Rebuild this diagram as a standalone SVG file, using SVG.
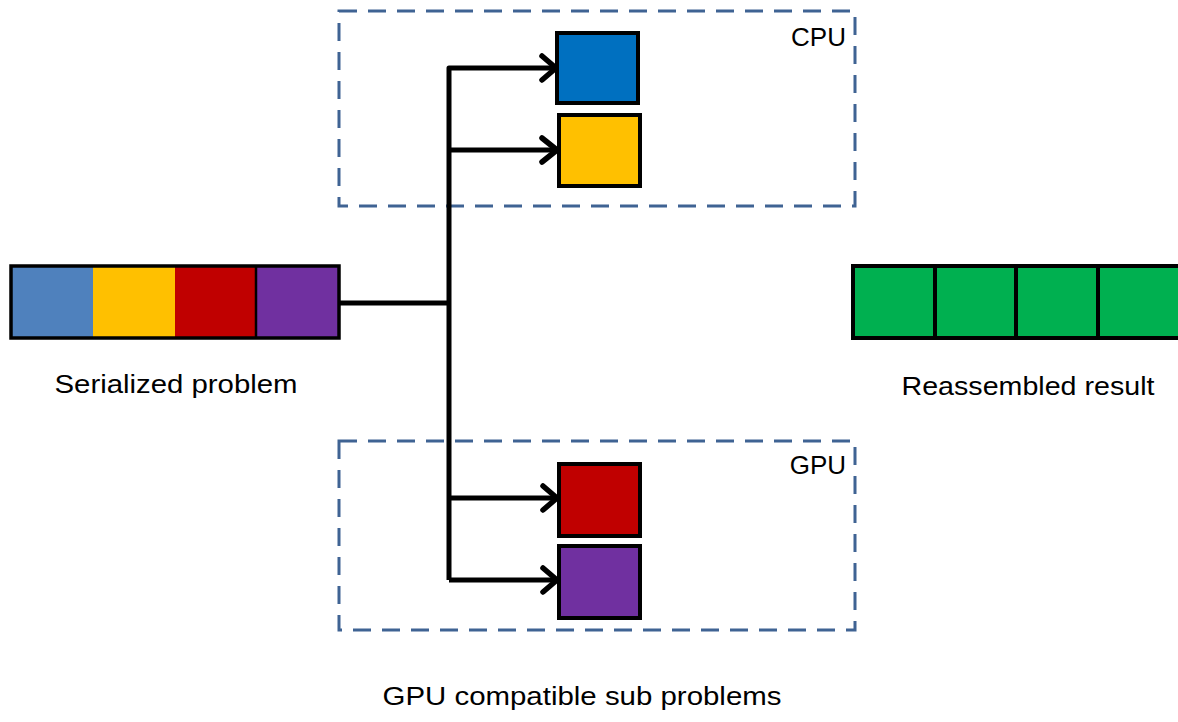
<svg xmlns="http://www.w3.org/2000/svg" width="1178" height="722" viewBox="0 0 1178 722">
<style>
.grp{fill:none;stroke:#3F6393;stroke-width:3;stroke-dasharray:18,11}
.box{stroke:#000;stroke-width:4}
.lbl{font-family:"Liberation Sans",Arial,sans-serif;font-size:26px;fill:#000}
.conn{fill:none;stroke:#000;stroke-width:5;stroke-linejoin:round}
.head{fill:none;stroke:#000;stroke-width:5.5;stroke-linecap:round;stroke-linejoin:round}
</style>
<rect width="1178" height="722" fill="#fff"/>
<g id="cpu-group">
<rect class="grp" x="339" y="11" width="516" height="195"/>
<text class="lbl" x="846" y="46" text-anchor="end">CPU</text>
</g>
<g id="gpu-group">
<rect class="grp" x="339" y="441" width="516" height="189"/>
<text class="lbl" x="846" y="474" text-anchor="end">GPU</text>
</g>
<g id="serialized">
<rect x="11" y="266" width="82" height="72" fill="#4F81BD"/>
<rect x="93" y="266" width="82" height="72" fill="#FFC000"/>
<rect x="175" y="266" width="81" height="72" fill="#C00000"/>
<rect x="256" y="266" width="83" height="72" fill="#7030A0"/>
<line x1="256" y1="266" x2="256" y2="338" stroke="#000" stroke-width="2.5"/>
<rect x="11" y="266" width="328" height="72" fill="none" stroke="#000" stroke-width="3.5"/>
<text class="lbl" x="176" y="393" text-anchor="middle" textLength="243" lengthAdjust="spacingAndGlyphs">Serialized problem</text>
</g>
<g id="result">
<rect class="box" x="853" y="266" width="82" height="72" fill="#00B050"/>
<rect class="box" x="935" y="266" width="81" height="72" fill="#00B050"/>
<rect class="box" x="1016" y="266" width="82" height="72" fill="#00B050"/>
<rect class="box" x="1098" y="266" width="82" height="72" fill="#00B050"/>
<text class="lbl" x="1028" y="395" text-anchor="middle" textLength="253" lengthAdjust="spacingAndGlyphs">Reassembled result</text>
</g>
<g id="sub-blue"><rect class="box" x="557" y="33" width="81" height="70" fill="#0070C0"/></g>
<g id="sub-yellow"><rect class="box" x="559" y="115" width="81" height="71" fill="#FFC000"/></g>
<g id="sub-red"><rect class="box" x="559" y="464" width="81" height="72" fill="#C00000"/></g>
<g id="sub-purple"><rect class="box" x="559" y="546" width="81" height="72" fill="#7030A0"/></g>
<text class="lbl" x="582" y="705" text-anchor="middle" textLength="399" lengthAdjust="spacingAndGlyphs">GPU compatible sub problems</text>
<g id="connectors">
<path class="conn" d="M339 303 H449"/>
<path class="conn" d="M449 580 V68 H555"/>
<path class="conn" d="M449 150 H556"/>
<path class="conn" d="M449 498 H556"/>
<path class="conn" d="M449 580 H556"/>
<path class="head" d="M542 56 L556 68 L542 80"/>
<path class="head" d="M542 138 L557 150 L542 162"/>
<path class="head" d="M543 486 L557 498 L543 510"/>
<path class="head" d="M543 568 L557 580 L543 592"/>
</g>
</svg>
